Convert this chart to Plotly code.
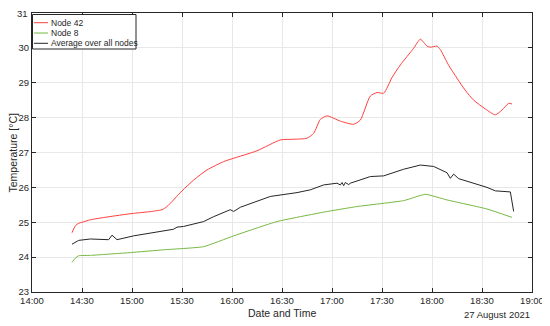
import plotly.graph_objects as go

day = "2021-08-27 "

node42_t = ["14:24", "14:26", "14:28", "14:30", "14:35", "14:45", "15:00", "15:10", "15:18", "15:21",
            "15:30", "15:37", "15:45", "15:55", "16:00", "16:15", "16:29", "16:37", "16:45", "16:49",
            "16:53", "16:57", "17:05", "17:13", "17:17", "17:23", "17:27", "17:31", "17:36", "17:41",
            "17:49", "17:53", "17:57", "17:59", "18:03", "18:05", "18:10", "18:15", "18:20", "18:25",
            "18:32", "18:38", "18:42", "18:46", "18:48"]
node42_v = [24.70, 24.90, 24.97, 25.00, 25.07, 25.15, 25.25, 25.30, 25.36, 25.45,
            25.90, 26.21, 26.50, 26.74, 26.82, 27.05, 27.36, 27.38, 27.41, 27.55,
            27.95, 28.05, 27.90, 27.81, 27.93, 28.62, 28.72, 28.70, 29.15, 29.51,
            29.99, 30.25, 30.05, 30.02, 30.05, 29.95, 29.50, 29.13, 28.78, 28.50,
            28.25, 28.08, 28.22, 28.41, 28.39]

node8_t = ["14:24", "14:26", "14:28", "14:35", "14:59", "15:19", "15:43", "16:01", "16:27",
           "16:55", "17:15", "17:43", "17:56", "18:09", "18:33", "18:48"]
node8_v = [23.85, 23.97, 24.04, 24.05, 24.13, 24.21, 24.30, 24.61, 25.02,
           25.29, 25.45, 25.62, 25.80, 25.64, 25.38, 25.14]

avg_t = ["14:24", "14:28", "14:35", "14:46", "14:48", "14:51", "15:01", "15:17", "15:25", "15:27",
         "15:31", "15:43", "15:49", "15:59", "16:01", "16:05", "16:23", "16:39", "16:47", "16:55",
         "17:03", "17:05", "17:06", "17:07", "17:08", "17:10", "17:11", "17:23", "17:31", "17:43",
         "17:53", "18:01", "18:09", "18:11", "18:13", "18:16", "18:25", "18:33", "18:38", "18:47",
         "18:49"]
avg_v = [24.37, 24.48, 24.52, 24.50, 24.63, 24.50, 24.61, 24.73, 24.80, 24.86,
         24.88, 25.02, 25.16, 25.36, 25.31, 25.43, 25.74, 25.85, 25.93, 26.07,
         26.12, 26.07, 26.14, 26.05, 26.14, 26.08, 26.12, 26.31, 26.33, 26.52,
         26.64, 26.60, 26.42, 26.26, 26.38, 26.25, 26.12, 26.00, 25.90, 25.87,
         25.31]

y_ticks = [23, 24, 25, 26, 27, 28, 29, 30, 31]

names = ["Node 42", "Node 8", "Average over all nodes"]
colors = ["#ff4040", "#77b843", "#262626"]
ink = "#262626"

fig = go.Figure()
fig.add_trace(go.Scatter(x=[day + t for t in node42_t], y=node42_v, mode="lines", name=names[0],
                         line=dict(color=colors[0], width=1, shape="spline", smoothing=0.6)))
fig.add_trace(go.Scatter(x=[day + t for t in node8_t], y=node8_v, mode="lines", name=names[1],
                         line=dict(color=colors[1], width=1, shape="spline", smoothing=0.4)))
fig.add_trace(go.Scatter(x=[day + t for t in avg_t], y=avg_v, mode="lines", name=names[2],
                         line=dict(color=colors[2], width=1)))

axis_style = dict(showline=True, linecolor=ink, linewidth=1, mirror="ticks",
                  ticks="inside", ticklen=4, tickcolor=ink, automargin=False,
                  ticklabeloverflow="allow",
                  showgrid=True, gridcolor="#e8e8e8", gridwidth=1, zeroline=False,
                  tickfont=dict(size=9.5, color=ink))

fig.update_xaxes(type="date", range=[day + "14:00", day + "19:00"], dtick=30 * 60 * 1000,
                 tickformat="%H:%M", tick0=day + "14:00", **axis_style)
# top label (31) is written as an annotation below, since plotly drops it at the div edge
fig.update_yaxes(range=[y_ticks[0], y_ticks[-1]], tickvals=y_ticks,
                 ticktext=[str(v) for v in y_ticks[:-1]] + [""], **axis_style)

# the page body adds an 8px offset; target plot area in window pixels: x 32..532, y 13..292
OFF = 8
W, H = 550 - OFF, 326 - OFF
L, R, T, B = 32, 532, 13, 292
px = lambda x: (x - L) / (R - L)
py = lambda y: (B - y) / (B - T)

fig.add_annotation(text=str(y_ticks[-1]), xref="paper", yref="paper", x=px(29.5), y=1.0,
                   xanchor="right", yanchor="middle", showarrow=False, font=dict(size=9.5, color=ink))

# axis titles and date label
fig.add_annotation(text="Date and Time", xref="paper", yref="paper", x=0.5, y=py(312.5),
                   xanchor="center", yanchor="middle", showarrow=False, font=dict(size=10.5, color=ink))
fig.add_annotation(text="Temperature [°C]", xref="paper", yref="paper", x=px(12), y=0.5, textangle=-90,
                   xanchor="center", yanchor="middle", showarrow=False, font=dict(size=10.5, color=ink))
fig.add_annotation(text="27 August 2021", xref="paper", yref="paper", x=1.0, y=py(314.5),
                   xanchor="right", yanchor="middle", showarrow=False, font=dict(size=9.5, color=ink))

# compact legend box (top-left, inside axes)
fig.add_shape(type="rect", xref="paper", yref="paper", x0=px(32.5), x1=px(136), y0=py(14.5), y1=py(49),
              line=dict(color=ink, width=1), fillcolor="white", layer="above")
for i, (nm, c) in enumerate(zip(names, colors)):
    yy = py(22.7 + 10.3 * i)
    fig.add_shape(type="line", xref="paper", yref="paper", x0=px(34), x1=px(48), y0=yy, y1=yy,
                  line=dict(color=c, width=1), layer="above")
    fig.add_annotation(text=nm, xref="paper", yref="paper", x=px(48.5), y=yy, xanchor="left",
                       yanchor="middle", showarrow=False, font=dict(size=8.5, color=ink))

fig.update_layout(
    width=W, height=H,
    margin=dict(l=L - OFF, r=550 - R, t=T - OFF, b=326 - B),
    paper_bgcolor="white", plot_bgcolor="white",
    font=dict(family="Liberation Sans, Arial, sans-serif", color=ink),
    showlegend=False,
)

fig.write_html("out.html")
